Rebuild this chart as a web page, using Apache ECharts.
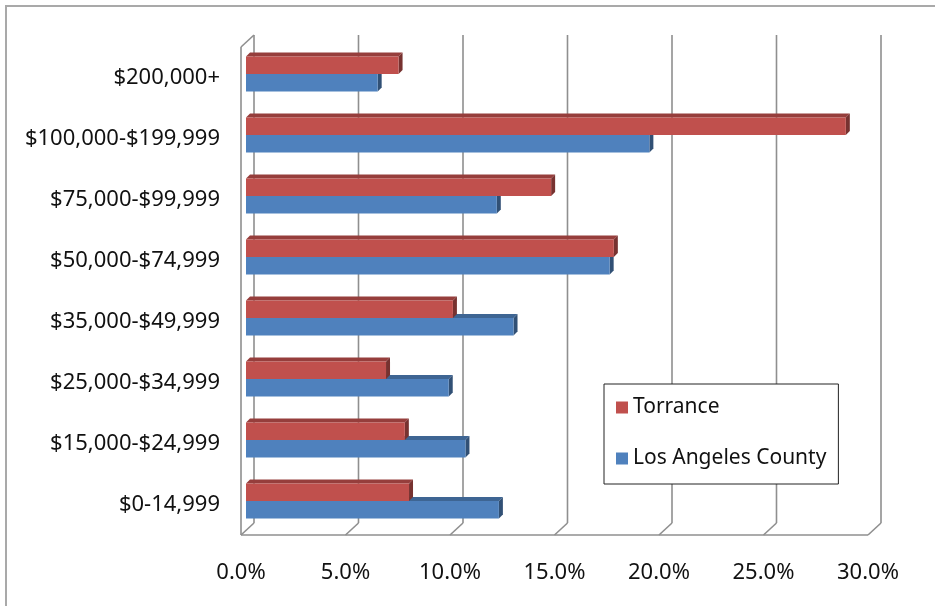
<!DOCTYPE html>
<html>
<head>
<meta charset="utf-8">
<script src="https://cdn.jsdelivr.net/npm/echarts@6/dist/echarts.min.js"></script>
<style>
  html, body { margin: 0; padding: 0; background: #fff; }
  #frame { position: absolute; left: 5px; top: 5px; width: 1000px; height: 1000px;
           border-left: 2px solid #a9a9a9; border-top: 2px solid #a9a9a9; box-sizing: border-box; }
  #chart { position: absolute; left: 0; top: 0; width: 935px; height: 606px; }
</style>
</head>
<body>
<div id="frame"></div>
<div id="chart"></div>
<script>
// Household income distribution (share of households, %)
const categories = [
  '$0-14,999', '$15,000-$24,999', '$25,000-$34,999', '$35,000-$49,999',
  '$50,000-$74,999', '$75,000-$99,999', '$100,000-$199,999', '$200,000+'
];
const torrance = [7.8, 7.6, 6.7, 9.9, 17.6, 14.6, 28.7, 7.3];
const losAngelesCounty = [12.1, 10.5, 9.7, 12.8, 17.4, 12.0, 19.3, 6.3];
const xTicks = [0, 5, 10, 15, 20, 25, 30];

const FONT = '"Noto Sans", sans-serif';

// depth offsets for the pseudo-3D look
const BACK = [13, -12];   // back wall relative to the front plane
const BARP = [5, -4.5];   // bar faces relative to the front plane
const FACE = 17.5;        // height of one bar's front face
const TOP = [4, -4];      // bar depth (top / side faces)

function shade(hex, k) {
  const n = parseInt(hex.slice(1), 16);
  const r = Math.round(((n >> 16) & 255) * k);
  const g = Math.round(((n >> 8) & 255) * k);
  const b = Math.round((n & 255) * k);
  return 'rgb(' + r + ',' + g + ',' + b + ')';
}

function barRenderer(color, upper) {
  return function (params, api) {
    const val = api.value(0);
    const cat = api.value(1);
    const p0 = api.coord([0, cat]);
    const p1 = api.coord([val, cat]);
    const x0 = p0[0] + BARP[0];
    const x1 = p1[0] + BARP[0];
    const c = p0[1] + BARP[1] + 1;
    const y0 = upper ? c - FACE : c;
    const y1 = y0 + FACE;
    const dx = TOP[0], dy = TOP[1];
    return {
      type: 'group',
      children: [
        { type: 'polygon', shape: { points: [[x0, y0], [x0 + dx, y0 + dy], [x1 + dx, y0 + dy], [x1, y0]] },
          style: { fill: shade(color, 0.78) } },
        { type: 'polygon', shape: { points: [[x1, y0], [x1 + dx, y0 + dy], [x1 + dx, y1 + dy], [x1, y1]] },
          style: { fill: shade(color, 0.62) } },
        { type: 'rect', shape: { x: x0, y: y0, width: x1 - x0, height: FACE },
          style: { fill: color } }
      ]
    };
  };
}

function frameRenderer(params, api) {
  const cs = params.coordSys;
  const top = cs.y, bottom = cs.y + cs.height;
  const x = api.coord([api.value(0), 0])[0];
  const ls = { stroke: '#8f8f8f', lineWidth: 1.6, fill: null };
  const children = [
    { type: 'line', shape: { x1: x + BACK[0], y1: top + BACK[1], x2: x + BACK[0], y2: bottom + BACK[1] }, style: ls },
    { type: 'line', shape: { x1: x, y1: bottom, x2: x + BACK[0], y2: bottom + BACK[1] }, style: ls }
  ];
  if (params.dataIndex === 0) {
    const xEnd = api.coord([xTicks[xTicks.length - 1], 0])[0];
    children.push(
      { type: 'line', shape: { x1: x, y1: bottom, x2: x, y2: top }, style: ls },
      { type: 'line', shape: { x1: x, y1: top, x2: x + BACK[0], y2: top + BACK[1] }, style: ls },
      { type: 'line', shape: { x1: x, y1: bottom, x2: xEnd, y2: bottom }, style: ls }
    );
  }
  return { type: 'group', children: children };
}

const chart = echarts.init(document.getElementById('chart'), null, { renderer: 'canvas' });
chart.setOption({
  animation: false,
  backgroundColor: 'transparent',
  grid: { left: 241, right: 67, top: 47, bottom: 71 },
  xAxis: {
    type: 'value', min: 0, max: 30, interval: 5,
    axisLine: { show: false }, axisTick: { show: false }, splitLine: { show: false },
    axisLabel: { margin: 27, fontSize: 22, color: '#111', fontFamily: FONT,
                 formatter: v => v.toFixed(1) + '%' }
  },
  yAxis: {
    type: 'category', data: categories,
    axisLine: { show: false }, axisTick: { show: false },
    axisLabel: { margin: 21, fontSize: 22, color: '#111', fontFamily: FONT }
  },
  legend: {
    orient: 'vertical', left: 604, top: 384,
    data: ['Torrance', 'Los Angeles County'],
    icon: 'rect', itemWidth: 12, itemHeight: 12, itemGap: 30,
    backgroundColor: '#fff', borderColor: '#222', borderWidth: 1,
    padding: [13, 12, 15, 12],
    textStyle: { fontSize: 21, color: '#111', fontFamily: FONT }
  },
  series: [
    {
      name: 'frame', type: 'custom', clip: false, silent: true, z: 1,
      data: xTicks.map(v => [v, 0]),
      encode: { x: 0, y: 1 },
      renderItem: frameRenderer
    },
    {
      name: 'Los Angeles County', type: 'custom', clip: false, z: 2,
      itemStyle: { color: '#4f81bd' },
      data: losAngelesCounty.map((v, i) => [v, i]),
      encode: { x: 0, y: 1 },
      renderItem: barRenderer('#4f81bd', false)
    },
    {
      name: 'Torrance', type: 'custom', clip: false, z: 3,
      itemStyle: { color: '#c0504d' },
      data: torrance.map((v, i) => [v, i]),
      encode: { x: 0, y: 1 },
      renderItem: barRenderer('#c0504d', true)
    }
  ]
});
</script>
</body>
</html>
